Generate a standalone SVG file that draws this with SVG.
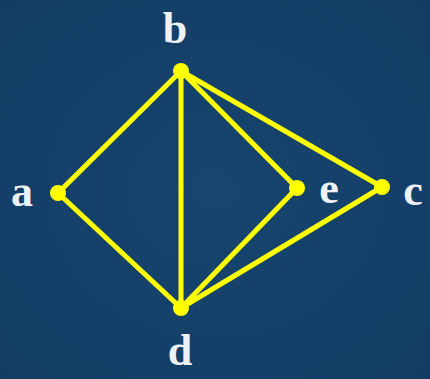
<svg xmlns="http://www.w3.org/2000/svg" width="430" height="379" viewBox="0 0 430 379">
<defs>
<radialGradient id="bg" cx="0.5" cy="0.5" r="0.7">
<stop offset="0" stop-color="#17456f"/>
<stop offset="1" stop-color="#123c64"/>
</radialGradient>
<style>
.edge{stroke:#ffff00;stroke-width:5;stroke-linecap:round;fill:none}
.node{fill:#ffff00}
.lbl{font-family:"Liberation Serif","Times New Roman",serif;font-weight:bold;font-size:44px;fill:#eef2f7;text-anchor:middle}
</style>
</defs>
<rect width="430" height="379" fill="url(#bg)"/>
<g id="connectors">
<line class="edge" x1="181" y1="71" x2="58" y2="193"/>
<line class="edge" x1="58" y1="193" x2="181" y2="308"/>
<line class="edge" x1="181" y1="71" x2="181" y2="308"/>
<line class="edge" x1="181" y1="71" x2="297" y2="188"/>
<line class="edge" x1="181" y1="71" x2="382" y2="187"/>
<line class="edge" x1="181" y1="308" x2="297" y2="188"/>
<line class="edge" x1="181" y1="308" x2="382" y2="187"/>
</g>
<g id="node-b"><circle class="node" cx="181" cy="71" r="8"/><text class="lbl" x="175" y="43">b</text></g>
<g id="node-a"><circle class="node" cx="58" cy="193" r="8"/><text class="lbl" x="22" y="206">a</text></g>
<g id="node-e"><circle class="node" cx="297" cy="188" r="8"/><text class="lbl" x="329" y="203">e</text></g>
<g id="node-c"><circle class="node" cx="382" cy="187" r="8"/><text class="lbl" x="413" y="205">c</text></g>
<g id="node-d"><circle class="node" cx="181" cy="308" r="8"/><text class="lbl" x="180" y="365">d</text></g>
</svg>
